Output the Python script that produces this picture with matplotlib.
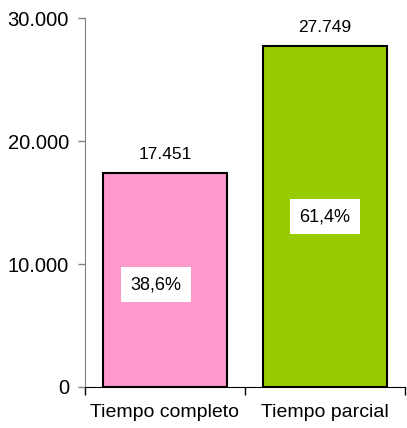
import matplotlib
matplotlib.use("Agg")
import matplotlib.pyplot as plt

categories = ["Tiempo completo", "Tiempo parcial"]
values = [17451, 27749]
value_labels = ["17.451", "27.749"]
pct_labels = ["38,6%", "61,4%"]
bar_colors = ["#FF99CC", "#99CC00"]
yticks = [0, 10000, 20000, 30000]
ytick_labels = ["0", "10.000", "20.000", "30.000"]

plt.rcParams['font.family'] = ['Liberation Sans', 'DejaVu Sans']
fig = plt.figure(figsize=(4.07, 4.28), dpi=100)
ax = fig.add_axes([85/407, 41/428, 320/407, 368.5/428])

x = list(range(len(categories)))
ax.bar(x, values, width=0.775, color=bar_colors, edgecolor="black", linewidth=1.5, zorder=2)
ax.set_xlim(-0.5, len(categories) - 0.5)
ax.set_ylim(0, 30000)
ax.set_yticks(yticks)
ax.set_yticklabels(ytick_labels, fontsize=14.5)
ax.set_xticks(x)
ax.set_xticklabels(categories, fontsize=14)
ax.tick_params(axis='x', length=0, pad=12)
ax.set_xticks([-0.5, 0.5, 1.5], minor=True)
ax.tick_params(axis='x', which='minor', length=6, color='black', width=1)
ax.tick_params(axis='y', length=5, color='#808080', width=1, pad=6.5)

for s in ["top", "right"]:
    ax.spines[s].set_visible(False)
ax.spines["left"].set_color("#808080")
ax.spines["bottom"].set_color("black")

pct_offsets = [(-6.5, -3.5), (0, 0)]  # label placement in points (style)
for i, v in enumerate(values):
    ax.annotate(value_labels[i], (i, v), xytext=(0, 8), textcoords="offset points",
                ha="center", va="bottom", fontsize=12.5)
    ax.annotate(pct_labels[i], (i, v / 2), xytext=pct_offsets[i], textcoords="offset points",
                ha="center", va="center", fontsize=13,
                bbox=dict(facecolor="white", edgecolor="none", pad=6.5), zorder=3)

fig.savefig("out.png", dpi=100)
